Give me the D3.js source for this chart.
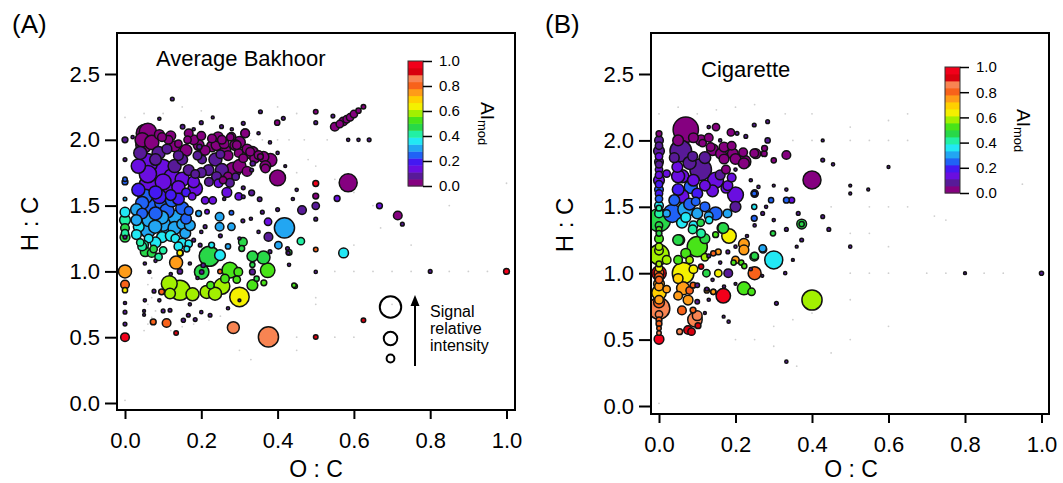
<!DOCTYPE html>
<html><head><meta charset="utf-8">
<script src="https://cdn.jsdelivr.net/npm/d3@7"></script>
<style>
html,body{margin:0;padding:0;background:#fff;}
svg{display:block;font-family:"Liberation Sans",Arial,Helvetica,sans-serif;}
</style></head><body>
<svg id="chart" width="1063" height="483"></svg>
<script>
// Van Krevelen diagrams: O:C vs H:C, colour = AImod, size = relative signal intensity

const ocTicks = [0, 0.2, 0.4, 0.6, 0.8, 1.0];
const hcTicks = [0, 0.5, 1.0, 1.5, 2.0, 2.5];
const aiTicks = [0, 0.2, 0.4, 0.6, 0.8, 1.0];

// discrete AImod colour table, from 0 (purple) to 1 (red)
const aiColors = ["#850080", "#581a98", "#6a0ee0", "#4418f2", "#2062f6", "#22a6f2",
  "#22e8f4", "#22f0a4", "#28d848", "#48e418", "#a2f000", "#f4f000",
  "#ffd000", "#ff9c18", "#f8621a", "#f88452", "#d8000e", "#f2001a"];

const legendIntensity = [68, 27, 9];
const legendLines = ["Signal", "relative", "intensity"];

// [O:C, H:C, AImod, relative intensity %]
const bakhoorPoints = [
  [0.053,2.05,0.02,48],[0.049,1.96,0.02,37],[0.058,1.82,0.13,60],[0.097,1.77,0.13,69],
  [0.088,1.90,0.08,25],[0.123,1.72,0.13,37],[0.061,1.66,0.13,48],[0.106,1.62,0.13,37],
  [0.14,1.64,0.13,25],[0.184,1.63,0.13,31],[0.167,1.77,0.08,17],[0.15,1.85,0.08,17],
  [0.114,2.0,0.02,11],[0.097,2.02,0.02,11],[0.14,1.97,0.02,8],[0.167,2.05,0.02,11],
  [0.193,1.96,0.02,17],[0.228,1.95,0.02,17],[0.254,2.0,0.02,11],[0.276,2.02,0.02,8],
  [0.263,1.92,0.02,17],[0.289,1.96,0.02,17],[0.298,1.90,0.02,11],[0.315,2.05,0.02,11],
  [0.333,1.90,0.02,25],[0.363,1.87,0.02,17],[0.368,1.80,0.02,17],[0.40,1.71,0.02,37],
  [0.237,1.85,0.08,25],[0.219,1.77,0.08,17],[0.254,1.77,0.08,25],[0.202,1.85,0.08,11],
  [0.245,1.67,0.13,11],[0.267,1.60,0.13,14],[0.298,1.57,0.13,8],[0.21,1.54,0.13,8],
  [0.184,1.74,0.08,11],[0.176,1.57,0.13,8],
  [0.06,2.06,0.02,44],[0.045,2.0,0.02,30],[0.07,1.98,0.02,30],[0.09,2.04,0.02,14],
  [0.12,2.03,0.02,14],[0.13,1.95,0.02,17],[0.16,1.92,0.02,20],[0.18,2.0,0.02,14],
  [0.2,2.03,0.02,11],[0.21,1.92,0.02,14],[0.24,1.96,0.02,17],[0.26,1.97,0.02,14],
  [0.27,1.88,0.02,14],[0.3,1.98,0.02,20],[0.31,1.86,0.02,11],[0.32,1.93,0.02,14],
  [0.34,1.86,0.02,14],[0.25,1.89,0.08,11],[0.19,1.88,0.08,11],[0.14,1.88,0.08,14],
  [0.11,1.93,0.08,14],[0.08,1.85,0.08,20],[0.04,1.9,0.08,25],[0.035,1.8,0.13,30],
  [0.06,1.74,0.13,44],[0.1,1.68,0.13,37],[0.13,1.8,0.08,25],[0.15,1.7,0.13,30],
  [0.18,1.68,0.13,20],[0.2,1.75,0.08,14],[0.22,1.68,0.08,11],[0.24,1.72,0.08,14],
  [0.27,1.72,0.02,11],[0.3,1.8,0.02,25],[0.29,1.72,0.08,8],[0.32,1.76,0.02,14],
  [0.053,1.57,0.25,31],[0.07,1.50,0.25,37],[0.097,1.52,0.25,31],[0.123,1.54,0.25,25],
  [0.15,1.48,0.25,25],[0.132,1.41,0.3,31],[0.097,1.41,0.3,25],[0.062,1.39,0.3,25],
  [0.045,1.44,0.25,17],[0.036,1.34,0.36,17],[0.079,1.34,0.3,25],[0.114,1.31,0.3,31],
  [0.15,1.36,0.3,17],[0.158,1.29,0.3,17],[0.097,1.26,0.36,17],[0.062,1.25,0.36,11],
  [0.132,1.25,0.36,11],[0.167,1.46,0.25,11],[0.193,1.44,0.3,5],
  [0.08,1.60,0.19,25],[0.12,1.58,0.19,17],[0.16,1.60,0.19,11],
  [0.035,1.62,0.19,25],[0.09,1.57,0.19,30],[0.14,1.55,0.19,20],[0.045,1.52,0.25,25],
  [0.11,1.46,0.25,30],[0.08,1.44,0.25,25],[0.03,1.47,0.3,20],[0.06,1.31,0.3,30],
  [0.1,1.36,0.3,30],[0.13,1.33,0.3,25],[0.17,1.35,0.3,17],[0.16,1.4,0.25,17],
  [0.03,1.39,0.3,17],[0.12,1.27,0.36,17],[0.08,1.22,0.36,17],[0.15,1.22,0.36,11],
  [0.03,1.28,0.36,14],[0.05,1.2,0.42,11],[0.07,1.14,0.47,11],[0.1,1.16,0.42,8],
  [0.045,1.19,0.42,11],[0.053,1.15,0.47,14],[0.075,1.17,0.47,8],[0.088,1.11,0.42,8],
  [0.14,1.19,0.36,11],[0.167,1.21,0.36,8],[0.145,1.14,0.64,5],[0.162,1.17,0.36,5],
  [0.04,1.22,0.42,8],
  [0,2.0,0.08,5],[0,1.68,0.25,5],[0,1.70,0.25,3],[0,1.45,0.36,14],[0,1.39,0.42,17],
  [0,1.33,0.47,11],[0,1.26,0.47,14],[0,1.29,0.42,8],[0,1.26,0.08,2],[0,1.0,0.75,25],
  [0,0.9,0.8,11],[0,0.857,0.64,4],[0,0.69,0.08,2],[0,0.60,0.08,2],[0,0.5,0.97,11],
  [0,1.85,0.1,2],[0,1.55,0.3,2],[0,0.76,0.08,1.5],
  [0.134,1.067,0.75,25],[0.144,1.14,0.64,5],[0.144,1.0,0.08,4],[0.116,0.907,0.58,37],
  [0.144,0.857,0.58,60],[0.118,0.832,0.58,17],[0.096,0.845,0.8,5],[0.177,0.826,0.58,25],
  [0.214,0.844,0.58,25],[0.236,0.831,0.58,25],[0.254,0.887,0.58,37],[0.224,0.895,0.53,8],
  [0.201,0.996,0.47,31],[0.201,0.996,0.08,3],[0.221,1.115,0.47,60],[0.249,1.123,0.36,17],
  [0.275,1.01,0.53,37],[0.297,0.996,0.53,11],[0.262,0.945,0.53,11],[0.293,0.938,0.53,8],
  [0.30,0.806,0.64,56],[0.284,0.573,0.86,21],[0.376,0.502,0.86,60],[0.334,1.115,0.47,17],
  [0.363,1.105,0.47,25],[0.374,1.008,0.53,31],[0.334,0.996,0.08,5],[0.334,0.895,0.53,17],
  [0.364,0.913,0.53,5],[0.306,1.174,0.47,5],[0.309,1.224,0.47,11],[0.376,1.262,0.08,11],
  [0.402,1.199,0.3,8],[0.418,1.331,0.3,60],[0.461,1.23,0.42,8],[0.5,1.166,0.8,3],
  [0.573,1.14,0.36,14],[0.446,0.887,0.53,3],[0.5,0.996,0.08,1.5],
  [0.074,0.616,0.8,5],[0.109,0.608,0.8,11],[0.134,0.532,0.91,3],
  [0.1,0.70,0.08,2],[0.118,0.705,0.08,2],[0.153,0.629,0.08,2.5],[0.166,0.667,0.08,2],
  [0.184,0.634,0.08,2],[0.223,0.667,0.08,2],[0.052,0.78,0.08,1.5],[0.076,0.85,0.08,2],
  [0.052,1.06,0.08,1.5],[0.064,0.996,0.08,1.5],
  [0.5,0.502,0.91,3],[0.625,0.629,0.91,3],[0.197,1.199,0.08,2],[0.18,1.237,0.08,2],
  [0.205,1.047,0.08,3],[0.249,1.0,0.8,3],[0.227,1.2,0.36,5],[0.27,1.19,0.3,4],
  [0.428,1.14,0.08,2],[0.334,1.05,0.47,4],[0.345,0.945,0.47,4],[0.443,0.895,0.53,3],
  [0.43,1.144,0.47,5],[1.0,1.0,0.97,5],[0.8,1.0,0.08,2],
  [0.381,1.846,0.02,25],[0.368,1.782,0.02,11],[0.355,1.871,0.02,5],[0.335,1.82,0.08,4],
  [0.332,1.77,0.08,2],[0.332,1.597,0.08,5],[0.353,1.549,0.08,3],[0.31,1.635,0.08,2],
  [0.31,1.567,0.08,2],[0.23,1.54,0.13,8],[0.215,1.453,0.13,3],[0.248,1.415,0.3,11],
  [0.248,1.339,0.3,11],[0.279,1.339,0.3,8],[0.279,1.445,0.25,3],[0.309,1.384,0.08,2],
  [0.257,1.694,0.02,8],[0.275,1.673,0.08,11],[0.284,1.77,0.02,37],[0.328,1.909,0.02,11],
  [0.35,1.884,0.02,11],[0.315,2.049,0.02,11],[0.31,2.125,0.08,2],[0.253,2.10,0.08,2],
  [0.2,2.13,0.08,2],[0.151,2.10,0.08,3],[0.293,1.96,0.02,11],[0.279,2.023,0.02,11],
  [0.164,2.0,0.02,8],[0.195,1.947,0.08,4],[0.228,2.01,0.02,11],[0.244,2.023,0.02,14],
  [0.124,2.31,0.08,2],[0.355,2.213,0.08,2],[0.415,2.163,0.08,2],[0.399,2.13,0.02,4],
  [0.5,2.213,0.02,3],[0.5,2.13,0.08,2],[0.545,2.18,0.08,2],[0.585,2.0,0.08,1.5],
  [0.612,2.0,0.08,1.5],[0.64,2.0,0.08,2],
  [0.55,2.099,0.02,11],[0.563,2.12,0.02,8],[0.572,2.139,0.02,11],[0.581,2.156,0.02,8],
  [0.59,2.171,0.02,8],[0.6,2.196,0.02,8],[0.612,2.221,0.02,4],[0.625,2.252,0.02,3],
  [0.585,1.673,0.02,48],[0.5,1.668,0.97,5],[0.5,1.572,0.02,5],[0.5,1.498,0.08,8],
  [0.5,1.397,0.08,2],[0.556,1.554,0.13,5],[0.667,1.498,0.13,5],[0.715,1.425,0.02,11],
  [0.727,1.359,0.08,2],[0.464,1.466,0.08,11],[0.375,1.377,0.13,8],[0.426,1.174,0.08,2],
  [0.02,2.02,0.08,1.5],[0.09,2.16,0.08,1.5],[0.18,2.08,0.08,1.5],[0.28,2.08,0.08,1.5],
  [0.23,2.17,0.08,1.2],[0.35,2.05,0.08,1.5],[0.38,1.98,0.08,1.5],[0.4,1.9,0.08,1.5],
  [0.42,1.8,0.08,1.2],[0.45,1.62,0.08,1.5],[0.44,1.55,0.08,1.5],[0.4,1.47,0.08,2],
  [0.36,1.45,0.08,2],[0.33,1.4,0.08,1.5],[0.26,1.55,0.08,1.5],[0.21,1.34,0.08,2],
  [0.2,1.3,0.08,1.5],[0.25,1.27,0.08,2],[0.3,1.25,0.08,1.5],[0.35,1.3,0.08,1.5],
  [0.38,1.15,0.08,2],[0.43,1.05,0.08,1.5],[0.17,1.06,0.08,1.5],[0.19,0.95,0.08,1.5],
  [0.12,0.98,0.08,1.5],[0.08,1.08,0.08,1.5],[0.09,0.78,0.08,1.5],[0.05,0.67,0.08,1.2],
  [0.27,0.72,0.08,1.5],[0.17,0.75,0.08,1.5],[0.2,0.69,0.08,1.5],[0.3,0.78,0.08,1.2],
  [0.05,0.7,0.08,1.2]
];

const cigarettePoints = [
  [0,2.05,0.02,5],[0,2.0,0.08,11],[0,1.96,0.08,8],[0,1.92,0.08,17],[0,1.88,0.13,8],
  [0,1.84,0.08,11],[0,1.78,0.13,8],[0,1.74,0.13,8],[0,1.70,0.13,17],[0,1.63,0.25,11],
  [0,1.60,0.19,8],[0,1.56,0.25,8],[0,1.51,0.36,11],[0,1.49,0.42,5],[0,1.40,0.47,79],
  [0,1.33,0.53,5],[0,1.30,0.47,5],[0,1.26,0.53,11],[0,1.20,0.58,8],[0,1.14,0.58,60],
  [0,1.07,0.58,5],[0,1.04,0.64,8],[0,1.0,0.91,31],[0,1.0,0.8,14],[0,0.95,0.8,8],
  [0,0.92,0.75,17],[0,0.853,0.69,31],[0,0.80,0.75,11],[0,0.735,0.86,69],[0,0.69,0.86,8],
  [0,0.648,0.8,5],[0,0.585,0.8,3],[0,0.502,0.97,14],
  [0,1.82,0.08,8],[0,1.67,0.19,8],[0,1.45,0.42,11],[0,1.36,0.47,8],[0,1.17,0.58,11],
  [0,0.97,0.8,11],[0,0.9,0.75,11],[0,0.78,0.8,17],[0,0.62,0.8,5],[0,0.55,0.86,3],
  [0.07,2.08,0.02,95],[0.057,1.92,0.08,69],[0.109,1.78,0.08,69],[0.148,1.70,0.13,37],
  [0.2,1.59,0.13,37],[0.083,1.65,0.25,25],[0.061,1.73,0.13,25],[0.048,1.80,0.13,17],
  [0.061,1.58,0.13,25],[0.035,1.45,0.25,48],[0.07,1.48,0.3,37],[0.096,1.54,0.25,11],
  [0.148,1.45,0.25,25],[0.179,1.45,0.3,11],[0.2,1.50,0.08,17],
  [0.149,2.10,0.02,8],[0.188,2.06,0.02,8],[0.227,2.03,0.08,2],[0.253,1.90,0.02,14],
  [0.223,1.84,0.02,25],[0.193,1.90,0.02,17],[0.162,1.90,0.02,17],[0.135,1.95,0.02,11],
  [0.114,1.98,0.02,8],[0.175,1.78,0.02,11],[0.25,1.60,0.13,8],[0.293,1.55,0.25,4],
  [0.3,1.85,0.02,4],[0.275,1.90,0.02,5],[0.088,1.88,0.08,14],[0.175,1.64,0.13,14],
  [0.05,2.0,0.02,17],[0.09,2.02,0.02,14],[0.11,2.0,0.02,17],[0.13,2.02,0.02,11],
  [0.14,1.93,0.02,20],[0.17,1.95,0.02,14],[0.19,1.96,0.02,11],[0.2,1.86,0.02,17],
  [0.22,1.91,0.02,11],[0.17,1.86,0.02,14],[0.12,1.87,0.08,20],[0.04,1.87,0.08,14],
  [0.08,1.83,0.08,25],[0.05,1.73,0.13,25],[0.09,1.7,0.13,20],[0.12,1.66,0.13,17],
  [0.14,1.62,0.13,20],[0.18,1.66,0.13,14],[0.16,1.74,0.08,14],[0.19,1.72,0.13,11],
  [0.05,1.63,0.19,20],[0.1,1.6,0.19,17],[0.04,1.55,0.25,17],[0.08,1.52,0.25,20],
  [0.1,1.45,0.3,17],[0.12,1.5,0.25,14],[0.13,1.43,0.3,11],[0.06,1.38,0.36,17],
  [0.09,1.36,0.36,11],[0.07,1.42,0.36,14],[0.11,1.3,0.42,11],[0.12,1.26,0.47,14],
  [0.07,1.15,0.53,14],[0.05,1.1,0.53,11],[0.08,1.1,0.58,8],[0.12,1.12,0.58,8],
  [0.05,0.96,0.69,14],[0.09,1.03,0.64,11],[0.05,0.83,0.75,11],[0.08,0.87,0.8,8],
  [0.06,0.72,0.8,11],[0.1,0.68,0.86,14],[0.085,0.56,0.91,8],[0.02,1.1,0.58,11],
  [0.02,0.88,0.75,8],[0.02,1.45,0.3,8],[0.02,1.75,0.13,8],
  [0.1,1.20,0.53,60],[0.053,1.25,0.47,17],[0.088,1.33,0.42,11],[0.109,1.38,0.47,8],
  [0.131,1.40,0.36,8],[0.166,1.34,0.47,17],[0.183,1.28,0.64,31],[0.148,1.29,0.53,5],
  [0.222,1.22,0.75,17],[0.063,1.0,0.64,69],[0.063,0.886,0.75,25],[0.076,0.798,0.75,14],
  [0.094,0.65,0.86,31],[0.076,0.572,0.91,11],[0.054,0.56,0.86,5],[0.102,0.605,0.91,5],
  [0.089,0.722,0.8,5],[0.089,0.91,0.8,5],[0.1,0.91,0.08,3],[0.1,0.785,0.08,3],
  [0.125,0.87,0.75,4],[0.142,0.86,0.53,4],[0.142,1.15,0.8,4],[0.155,1.16,0.75,5],
  [0.195,1.08,0.53,4],[0.215,1.08,0.53,4],
  [0.124,1.0,0.47,8],[0.155,1.0,0.64,8],[0.181,1.0,0.08,11],[0.2,1.10,0.75,8],
  [0.223,1.054,0.53,4],[0.25,1.0,0.8,25],[0.222,0.886,0.53,25],[0.242,0.86,0.53,8],
  [0.168,0.83,0.97,31],[0.30,1.10,0.36,48],[0.272,1.18,0.3,8],[0.25,1.13,0.47,8],
  [0.168,1.34,0.47,17],[0.05,1.25,0.47,17],
  [0.40,0.798,0.58,60],[0.40,1.702,0.02,48],[0.333,1.89,0.02,11],[0.276,1.94,0.02,5],
  [0.249,1.903,0.02,11],[0.222,1.827,0.02,17],[0.284,2.141,0.08,2],[0.249,2.116,0.08,2],
  [0.204,2.053,0.08,2],[0.373,1.37,0.47,14],[0.373,1.37,0.47,4],[0.347,1.55,0.13,5],
  [0.333,1.55,0.25,5],[0.364,1.45,0.08,2],[0.373,1.25,0.08,2],[0.333,1.33,0.08,2],
  [0.271,1.187,0.3,8],[0.249,1.124,0.47,11],[0.222,1.175,0.75,14],[0.298,1.30,0.47,4],
  [0.249,1.413,0.25,5],[0.249,1.50,0.36,4],[0.271,1.45,0.08,2],[0.249,1.60,0.25,4],
  [0.307,0.773,0.08,2],[0.333,0.334,0.08,1.5],[0.428,1.852,0.08,2],[0.455,1.82,0.08,1.5],
  [0.428,1.426,0.08,2],[0.444,1.33,0.08,2],[0.5,1.2,0.08,1.5],[0.5,1.66,0.08,1.2],
  [0.5,1.6,0.08,1.2],[0.547,1.63,0.08,1.2],[0.6,1.80,0.08,1.2],[0.8,1.0,0.08,1.2],
  [1.0,1.0,0.08,2.5],[0.428,2.0,0.08,1.2],[0.284,2.0,0.08,4],[0.333,1.63,0.08,1.5],
  [0.142,0.86,0.75,4],[0.125,0.88,0.08,2],[0.182,0.635,0.08,1.5],[0.169,0.673,0.08,1.2],
  [0.13,2.1,0.08,1.5],[0.16,2.0,0.08,1.5],[0.2,1.78,0.08,1.5],[0.24,1.7,0.08,1.5],
  [0.26,1.65,0.08,1.5],[0.3,1.66,0.08,1.2],[0.28,1.5,0.08,1.5],[0.3,1.4,0.08,1.5],
  [0.25,1.36,0.08,1.5],[0.23,1.28,0.08,1.5],[0.2,1.2,0.08,1.5],[0.18,1.16,0.08,2],
  [0.16,1.08,0.08,1.5],[0.14,0.95,0.08,1.5],[0.13,0.8,0.08,1.5],[0.17,0.9,0.08,1.5],
  [0.2,0.92,0.08,1.2],[0.12,0.7,0.08,1.2],[0.27,0.98,0.08,1.2],[0.33,1.0,0.08,1.5],
  [0.35,1.1,0.08,1.2],[0.36,1.2,0.08,1.2],[0.24,1.03,0.08,1.5],[0.11,1.05,0.91,4],
  [0.13,1.13,0.08,2]
];

// faint low-intensity assignments, [O:C, H:C]
const bakhoorTrace = [
  [0.0,2.17],[0.05,2.2],[0.1,2.2],[0.15,2.25],[0.2,2.22],[0.33,2.0],[0.36,2.0],[0.4,2.0],
  [0.43,2.0],[0.47,2.0],[0.53,2.0],[0.45,1.75],[0.48,1.85],[0.5,1.8],[0.55,1.7],[0.6,1.6],
  [0.65,1.5],[0.67,1.33],[0.6,1.2],[0.55,1.0],[0.6,1.0],[0.65,1.0],[0.7,1.0],[0.75,1.0],
  [0.85,1.0],[0.9,1.0],[0.95,1.0],[0.5,0.8],[0.5,0.75],[0.45,0.5],[0.55,0.5],[0.6,0.5],
  [0.33,0.33],[0.45,0.4],[0.3,0.4],[0.05,0.55],[0.06,0.6],[0.07,0.65],[0.08,0.7],
  [0.06,0.75],[0.07,0.8],[0.08,0.85],[0.06,0.9],[0.07,0.95],[0.05,1.05],[0.12,0.55],
  [0.15,0.58],[0.18,0.6],[0.22,0.63],[0.25,0.66],[0.0,0.02],[1.0,1.67],[0.4,2.25],
  [0.45,2.2],[0.7,0.75],[0.75,1.2],[0.85,1.5]
];
const cigaretteTrace = [
  [0.0,2.2],[0.05,2.25],[0.1,2.2],[0.15,2.23],[0.2,2.25],[0.25,2.27],[0.33,2.2],[0.4,2.2],
  [0.5,2.1],[0.6,2.15],[0.65,2.2],[0.35,2.0],[0.4,2.0],[0.5,2.0],[0.55,2.0],[0.6,2.0],
  [0.65,2.0],[0.45,1.5],[0.55,1.5],[0.6,1.5],[0.65,1.5],[0.72,1.43],[0.75,1.4],[0.5,1.3],
  [0.55,1.3],[0.6,1.2],[0.5,1.0],[0.55,1.0],[0.6,1.0],[0.7,1.0],[0.75,1.0],[0.85,1.0],
  [0.9,1.0],[0.5,0.8],[0.6,0.6],[0.45,0.4],[0.5,0.5],[0.36,0.3],[0.3,0.45],[0.25,0.5],
  [0.2,0.5],[0.0,0.02],[0.95,1.67],[0.3,0.6],[0.35,0.65],[0.4,0.7]
];

const svg = d3.select("#chart");
const color = d3.scaleQuantize().domain([0, 1]).range(aiColors);
const radius = d3.scaleSqrt().domain([0, 100]).range([0, 13]);
const fmt = d3.format(".1f");

function drawPanel(cfg, points, trace) {
  const x = d3.scaleLinear().domain([0, 1]).range([cfg.x0, cfg.x1]);
  const y = d3.scaleLinear().domain([0, 2.5]).range([cfg.y0, cfg.y25]);
  const g = svg.append("g");

  const clipId = "clip" + cfg.id;
  svg.append("clipPath").attr("id", clipId).append("rect")
    .attr("x", cfg.left).attr("y", cfg.top)
    .attr("width", cfg.right - cfg.left).attr("height", cfg.bottom - cfg.top);

  const plot = g.append("g").attr("clip-path", `url(#${clipId})`);

  plot.selectAll("circle.trace").data(trace).join("circle")
    .attr("class", "trace")
    .attr("cx", d => x(d[0])).attr("cy", d => y(d[1])).attr("r", 0.9)
    .attr("fill", "#cfcfcf");

  // larger signals underneath, smaller ones on top
  const sorted = points.slice().sort((a, b) => b[3] - a[3]);
  plot.selectAll("circle.pt").data(sorted).join("circle")
    .attr("class", "pt")
    .attr("cx", d => x(d[0])).attr("cy", d => y(d[1]))
    .attr("r", d => radius(d[3]))
    .attr("fill", d => color(d[2]))
    .attr("stroke", "#111").attr("stroke-width", 1.5);

  // frame
  g.append("rect")
    .attr("x", cfg.left).attr("y", cfg.top)
    .attr("width", cfg.right - cfg.left).attr("height", cfg.bottom - cfg.top)
    .attr("fill", "none").attr("stroke", "#000").attr("stroke-width", 2);

  const yAxis = g.append("g").attr("transform", `translate(${cfg.left},0)`)
    .call(d3.axisLeft(y).tickValues(hcTicks).tickFormat(fmt).tickSize(12).tickPadding(5));
  const xAxis = g.append("g").attr("transform", `translate(0,${cfg.bottom})`)
    .call(d3.axisBottom(x).tickValues(ocTicks).tickFormat(fmt).tickSize(9).tickPadding(13));
  [yAxis, xAxis].forEach(a => {
    a.select(".domain").remove();
    a.selectAll(".tick line").attr("stroke", "#000").attr("stroke-width", 2);
    a.selectAll(".tick text").attr("fill", "#000")
      .style("font-size", "22px").style("font-family", '"Liberation Sans", Arial, sans-serif');
  });

  // panel tag, title, axis titles
  g.append("text").attr("x", cfg.tagX).attr("y", 33).text(cfg.tag)
    .style("font-size", "26px");
  g.append("text").attr("x", cfg.titleX).attr("y", cfg.titleY).text(cfg.title)
    .style("font-size", "22px");
  g.append("text").attr("x", cfg.xLabelX).attr("y", 477).attr("text-anchor", "middle")
    .text("O : C").style("font-size", "23px");
  g.append("text").attr("transform", `translate(${cfg.yLabelX},${cfg.yLabelY}) rotate(-90)`)
    .attr("text-anchor", "middle").text("H : C").style("font-size", "24px");

  // colour bar
  const cb = d3.scaleLinear().domain([0, 1]).range([cfg.cbBottom, cfg.cbTop]);
  const n = aiColors.length;
  const cbg = g.append("g");
  cbg.selectAll("rect.band").data(aiColors).join("rect")
    .attr("class", "band")
    .attr("x", cfg.cbX).attr("width", 15)
    .attr("y", (c, i) => cb((i + 1) / n))
    .attr("height", (c, i) => cb(i / n) - cb((i + 1) / n) + 0.4)
    .attr("fill", c => c);
  cbg.append("rect").attr("x", cfg.cbX).attr("y", cfg.cbTop).attr("width", 15)
    .attr("height", cfg.cbBottom - cfg.cbTop)
    .attr("fill", "none").attr("stroke", "#333").attr("stroke-width", 1);
  const cAxis = cbg.append("g").attr("transform", `translate(${cfg.cbX + 15},0)`)
    .call(d3.axisRight(cb).tickValues(aiTicks).tickFormat(fmt).tickSize(9).tickPadding(7));
  cAxis.select(".domain").remove();
  cAxis.selectAll(".tick line").attr("stroke", "#000").attr("stroke-width", 1.5);
  cAxis.selectAll(".tick text").attr("fill", "#000")
    .style("font-size", "15px").style("font-family", '"Liberation Sans", Arial, sans-serif');

  const ai = g.append("text")
    .attr("transform", `translate(${cfg.aiX},${cfg.aiY}) rotate(90)`);
  ai.append("tspan").text("AI").style("font-size", "19px");
  ai.append("tspan").text("mod").attr("dy", 3).style("font-size", "13px");

  if (cfg.legend) {
    const lg = g.append("g");
    lg.selectAll("circle").data(legendIntensity).join("circle")
      .attr("cx", 390.5).attr("cy", (d, i) => [307, 338.5, 358.5][i])
      .attr("r", d => radius(d))
      .attr("fill", "none").attr("stroke", "#000").attr("stroke-width", 2);
    lg.append("line").attr("x1", 415).attr("x2", 415).attr("y1", 366).attr("y2", 304)
      .attr("stroke", "#000").attr("stroke-width", 2);
    lg.append("path").attr("d", "M415,295 L410.5,306 L419.5,306 Z").attr("fill", "#000");
    lg.selectAll("text").data(legendLines).join("text")
      .attr("x", 430).attr("y", (d, i) => 317 + i * 17)
      .text(d => d).style("font-size", "16px");
  }
}

drawPanel({
  id: "A", tag: "(A)", tagX: 12, title: "Average Bakhoor", titleX: 156, titleY: 66,
  left: 117, right: 515, top: 33, bottom: 410,
  x0: 125, x1: 506.5, y0: 403, y25: 74,
  xLabelX: 316, yLabelX: 38, yLabelY: 224,
  cbX: 408, cbTop: 61, cbBottom: 186, aiX: 481, aiY: 102, legend: true
}, bakhoorPoints, bakhoorTrace);

drawPanel({
  id: "B", tag: "(B)", tagX: 545, title: "Cigarette", titleX: 701, titleY: 77,
  left: 651, right: 1049, top: 33, bottom: 414,
  x0: 659, x1: 1041.5, y0: 406, y25: 74,
  xLabelX: 851, yLabelX: 573, yLabelY: 225,
  cbX: 945, cbTop: 67, cbBottom: 193, aiX: 1017, aiY: 109, legend: false
}, cigarettePoints, cigaretteTrace);
</script>
</body></html>
